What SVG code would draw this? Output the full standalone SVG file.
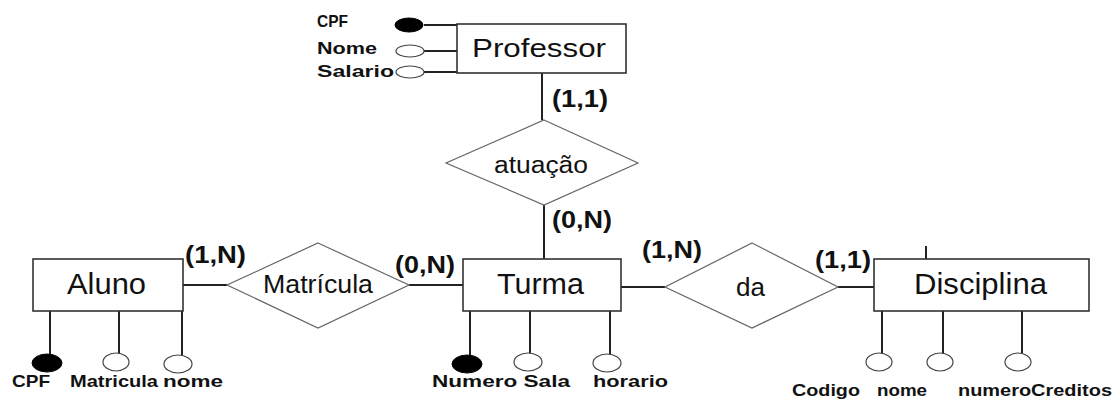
<svg xmlns="http://www.w3.org/2000/svg" width="1120" height="411" viewBox="0 0 1120 411">
<style>
.ent{fill:#fff;stroke:#333;stroke-width:1.6}
.rel{fill:#fff;stroke:#666;stroke-width:1.2}
.ln{stroke:#222;stroke-width:2;fill:none}
.key{fill:#000;stroke:#000;stroke-width:1}
.att{fill:#fff;stroke:#444;stroke-width:1.2}
.t{font-family:"Liberation Sans",Arial,sans-serif;fill:#111}
.card{font-family:"Liberation Sans",Arial,sans-serif;font-weight:bold;font-size:23px;fill:#111}
.lab{font-family:"Liberation Sans",Arial,sans-serif;font-weight:bold;font-size:17px;fill:#111}
</style>
<rect width="1120" height="411" fill="#fff"/>
<g id="connectors">
<line class="ln" x1="424" y1="25" x2="457" y2="25"/>
<line class="ln" x1="424" y1="51" x2="457" y2="51"/>
<line class="ln" x1="424" y1="72" x2="457" y2="72"/>
<line class="ln" x1="542" y1="73" x2="542" y2="120"/>
<line class="ln" x1="544" y1="205" x2="544" y2="259"/>
<line class="ln" x1="183" y1="285" x2="227" y2="285"/>
<line class="ln" x1="409" y1="285" x2="463" y2="285"/>
<line class="ln" x1="621" y1="287" x2="665" y2="287"/>
<line class="ln" x1="838" y1="287" x2="874" y2="287"/>
<line class="ln" x1="926" y1="246" x2="926" y2="259"/>
<line class="ln" x1="50" y1="311" x2="50" y2="355"/>
<line class="ln" x1="119" y1="311" x2="119" y2="353"/>
<line class="ln" x1="182" y1="311" x2="182" y2="355"/>
<line class="ln" x1="470" y1="311" x2="470" y2="356"/>
<line class="ln" x1="530" y1="311" x2="530" y2="353"/>
<line class="ln" x1="610" y1="311" x2="610" y2="354"/>
<line class="ln" x1="882" y1="311" x2="882" y2="353"/>
<line class="ln" x1="943" y1="311" x2="943" y2="353"/>
<line class="ln" x1="1022" y1="311" x2="1022" y2="353"/>
</g>
<g id="professor">
<rect class="ent" x="457" y="24" width="169" height="49"/>
<text class="t" x="472" y="57" font-size="26" textLength="134" lengthAdjust="spacingAndGlyphs">Professor</text>
<ellipse class="key" cx="409" cy="25" rx="14" ry="7"/>
<ellipse class="att" cx="410" cy="51" rx="14" ry="6"/>
<ellipse class="att" cx="410" cy="72" rx="14" ry="6"/>
<text class="lab" x="317" y="27" textLength="31" lengthAdjust="spacingAndGlyphs">CPF</text>
<text class="lab" x="317" y="54" textLength="60" lengthAdjust="spacingAndGlyphs">Nome</text>
<text class="lab" x="317" y="77" textLength="77" lengthAdjust="spacingAndGlyphs">Salario</text>
</g>
<g id="atuacao">
<polygon class="rel" points="544,120 638,163 544,205 446,163"/>
<text class="t" x="494" y="173" font-size="23" textLength="94" lengthAdjust="spacingAndGlyphs">atuação</text>
<text class="card" x="552" y="107" textLength="56" lengthAdjust="spacingAndGlyphs">(1,1)</text>
<text class="card" x="552" y="228" textLength="60" lengthAdjust="spacingAndGlyphs">(0,N)</text>
</g>
<g id="aluno">
<rect class="ent" x="33" y="259" width="150" height="52"/>
<text class="t" x="67" y="294" font-size="29" textLength="79" lengthAdjust="spacingAndGlyphs">Aluno</text>
<ellipse class="key" cx="47" cy="363" rx="15" ry="9"/>
<ellipse class="att" cx="116" cy="362" rx="13" ry="9"/>
<ellipse class="att" cx="178" cy="364" rx="14" ry="9"/>
<text class="lab" x="12" y="387" textLength="38" lengthAdjust="spacingAndGlyphs">CPF</text>
<text class="lab" x="70" y="387" textLength="88" lengthAdjust="spacingAndGlyphs">Matricula</text>
<text class="lab" x="163" y="387" textLength="60" lengthAdjust="spacingAndGlyphs">nome</text>
</g>
<g id="matricula">
<polygon class="rel" points="318,243 409,285 318,328 227,285"/>
<text class="t" x="263" y="293" font-size="25" textLength="110" lengthAdjust="spacingAndGlyphs">Matrícula</text>
<text class="card" x="185" y="263" textLength="61" lengthAdjust="spacingAndGlyphs">(1,N)</text>
<text class="card" x="395" y="273" textLength="60" lengthAdjust="spacingAndGlyphs">(0,N)</text>
</g>
<g id="turma">
<rect class="ent" x="463" y="259" width="158" height="52"/>
<text class="t" x="497" y="294" font-size="29" textLength="87" lengthAdjust="spacingAndGlyphs">Turma</text>
<ellipse class="key" cx="467" cy="364" rx="15" ry="9"/>
<ellipse class="att" cx="528" cy="362" rx="14" ry="9"/>
<ellipse class="att" cx="607" cy="363" rx="14" ry="9"/>
<text class="lab" x="432" y="387" textLength="138" lengthAdjust="spacingAndGlyphs">Numero Sala</text>
<text class="lab" x="593" y="387" textLength="75" lengthAdjust="spacingAndGlyphs">horario</text>
</g>
<g id="da">
<polygon class="rel" points="752,243 838,287 752,328 665,287"/>
<text class="t" x="736" y="296" font-size="25" textLength="29" lengthAdjust="spacingAndGlyphs">da</text>
<text class="card" x="642" y="258" textLength="60" lengthAdjust="spacingAndGlyphs">(1,N)</text>
<text class="card" x="815" y="268" textLength="56" lengthAdjust="spacingAndGlyphs">(1,1)</text>
</g>
<g id="disciplina">
<rect class="ent" x="874" y="259" width="215" height="52"/>
<text class="t" x="914" y="294" font-size="29" textLength="133" lengthAdjust="spacingAndGlyphs">Disciplina</text>
<ellipse class="att" cx="879" cy="362" rx="13" ry="9"/>
<ellipse class="att" cx="940" cy="362" rx="13" ry="9"/>
<ellipse class="att" cx="1018" cy="362" rx="13" ry="9"/>
<text class="lab" x="792" y="396" textLength="68" lengthAdjust="spacingAndGlyphs">Codigo</text>
<text class="lab" x="877" y="396" textLength="50" lengthAdjust="spacingAndGlyphs">nome</text>
<text class="lab" x="958" y="396" textLength="154" lengthAdjust="spacingAndGlyphs">numeroCreditos</text>
</g>
</svg>
